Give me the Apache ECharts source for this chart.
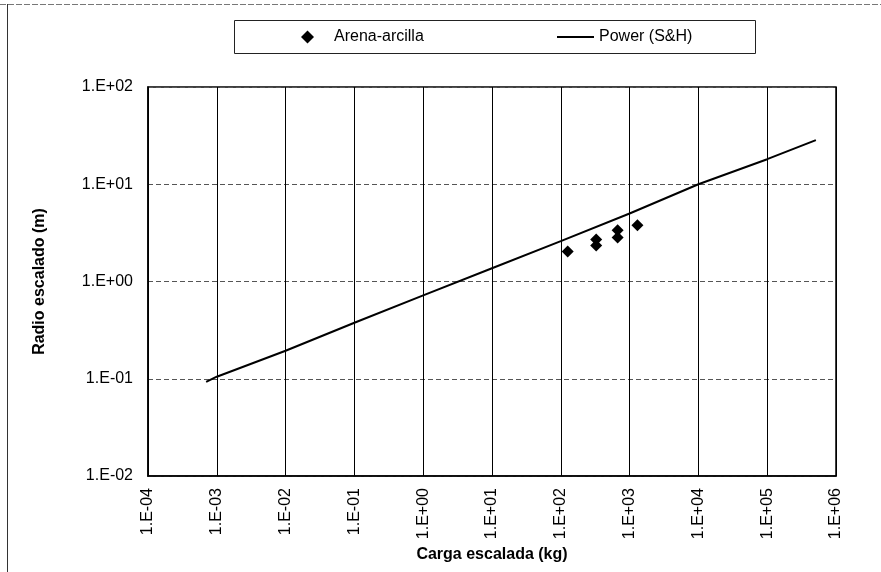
<!DOCTYPE html>
<html>
<head>
<meta charset="utf-8">
<script src="https://cdn.jsdelivr.net/npm/echarts@6/dist/echarts.min.js"></script>
<style>
html,body{margin:0;padding:0;background:#fff;}
#c{width:881px;height:572px;}
</style>
</head>
<body>
<div id="c"></div>
<script>
// Data
var scatterName = 'Arena-arcilla';
var lineName = 'Power (S&H)';
var scatterX = [126, 327, 327, 670, 670, 1300];
var scatterY = [2.04, 2.71, 2.35, 3.36, 2.84, 3.78];
var lineX = [7e-4, 1e-3, 1e-2, 1e-1, 1, 10, 100, 1000, 10000, 100000, 510000];
var lineY = [0.093, 0.105, 0.194, 0.377, 0.72, 1.37, 2.6, 5.0, 10.0, 18.1, 28.4];
var xTickMin = 1e-4, xTickMax = 1e6;
var yTickMin = 1e-2, yTickMax = 1e2;
var xTitle = 'Carga escalada (kg)';
var yTitle = 'Radio escalado (m)';

function fmt(v) {
  var e = Math.round(Math.log10(v));
  var s = e < 0 ? '-' : '+';
  var a = Math.abs(e);
  return '1.E' + s + (a < 10 ? '0' + a : '' + a);
}
function pairs(xs, ys) {
  var out = [];
  for (var i = 0; i < xs.length; i++) out.push([xs[i], ys[i]]);
  return out;
}

var font = 'Liberation Sans, Arial, sans-serif';
var chart = echarts.init(document.getElementById('c'), null, {renderer: 'canvas'});
chart.setOption({
  animation: false,
  backgroundColor: '#fff',
  graphic: [
    {type: 'line', shape: {x1: 0, y1: 4.5, x2: 881, y2: 4.5}, style: {stroke: '#777', lineWidth: 1, lineDash: [6, 2]}, silent: true},
    {type: 'line', shape: {x1: 7.5, y1: 4, x2: 7.5, y2: 572}, style: {stroke: '#333', lineWidth: 1}, silent: true},
    {type: 'rect', shape: {x: 234.5, y: 20.5, width: 521, height: 33}, style: {fill: 'none', stroke: '#222', lineWidth: 1}, silent: true}
  ],
  legend: [
    {
      data: [{name: scatterName, icon: 'diamond', itemStyle: {opacity: 1}}],
      left: 301, top: 29, itemWidth: 13, itemHeight: 13, itemGap: 10,
      textStyle: {fontFamily: font, fontSize: 16, color: '#000', padding: [0, 0, 0, 15]},
      padding: 0
    },
    {
      data: [{name: lineName, icon: 'rect'}],
      left: 557, top: 29, itemWidth: 37, itemHeight: 2,
      textStyle: {fontFamily: font, fontSize: 16, color: '#000'},
      padding: 0
    }
  ],
  grid: {left: 148, right: 45, top: 87, bottom: 96, show: true, borderColor: '#000', borderWidth: 1.5, containLabel: false},
  xAxis: {
    type: 'log', logBase: 10, min: xTickMin, max: xTickMax,
    name: xTitle, nameLocation: 'middle', nameGap: 69,
    nameTextStyle: {fontFamily: font, fontSize: 16, fontWeight: 'bold', color: '#000'},
    axisLine: {show: true, lineStyle: {color: '#000', width: 1.5}},
    axisTick: {show: false},
    axisLabel: {rotate: 90, margin: 12, fontFamily: font, fontSize: 16, color: '#000', formatter: fmt},
    splitLine: {show: true, lineStyle: {color: '#000', width: 1}},
    minorTick: {show: false}
  },
  yAxis: {
    type: 'log', logBase: 10, min: yTickMin, max: yTickMax,
    name: yTitle, nameLocation: 'middle', nameGap: 100,
    nameTextStyle: {fontFamily: font, fontSize: 16, fontWeight: 'bold', color: '#000'},
    axisLine: {show: true, lineStyle: {color: '#000', width: 1.5}},
    axisTick: {show: false},
    axisLabel: {margin: 15, fontFamily: font, fontSize: 16, color: '#000', formatter: fmt},
    splitLine: {show: true, lineStyle: {color: '#555', width: 1, type: [5, 3]}}
  },
  series: [
    {
      name: scatterName, type: 'scatter', symbol: 'diamond', symbolSize: 12,
      itemStyle: {color: '#000', opacity: 1},
      data: pairs(scatterX, scatterY), z: 3
    },
    {
      name: lineName, type: 'line', symbol: 'none', smooth: false,
      lineStyle: {color: '#000', width: 2},
      itemStyle: {color: '#000'},
      data: pairs(lineX, lineY), z: 2
    }
  ]
});
</script>
</body>
</html>
